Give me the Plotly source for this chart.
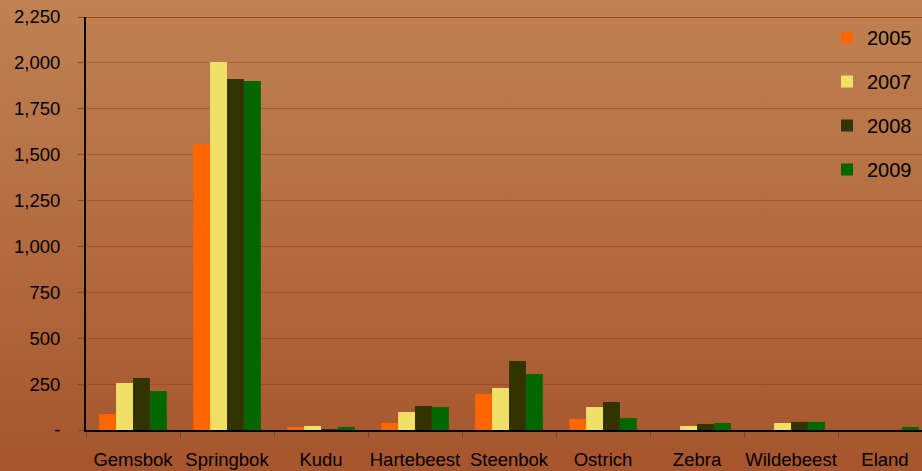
import base64
import plotly.graph_objects as go

categories = ["Gemsbok", "Springbok", "Kudu", "Hartebeest", "Steenbok",
              "Ostrich", "Zebra", "Wildebeest", "Eland"]
years = ["2005", "2007", "2008", "2009"]
v2005 = [87, 1558, 16, 38, 196, 60, 0, 0, 0]
v2007 = [256, 2005, 22, 98, 229, 125, 22, 38, 0]
v2008 = [283, 1912, 5, 131, 376, 153, 33, 44, 0]
v2009 = [212, 1901, 16, 125, 305, 65, 38, 44, 16]
series = [v2005, v2007, v2008, v2009]
colors = ["#ff6600", "#f0e068", "#333300", "#006600"]
ytickvals = [0, 250, 500, 750, 1000, 1250, 1500, 1750, 2000, 2250]
yticktext = ["-", "250", "500", "750", "1,000", "1,250", "1,500", "1,750", "2,000", "2,250"]

W, H = 922, 471
L, T, B = 86, 17, 41
PW, PH = W - L, H - T - B

svg = ('<svg xmlns="http://www.w3.org/2000/svg" width="100" height="100" preserveAspectRatio="none">'
       '<defs><linearGradient id="g" x1="0" y1="0" x2="0" y2="1">'
       '<stop offset="0" stop-color="#c08253"/><stop offset="1" stop-color="#a6552c"/>'
       '</linearGradient></defs><rect width="100" height="100" fill="url(#g)"/></svg>')
uri = "data:image/svg+xml;base64," + base64.b64encode(svg.encode()).decode()

fig = go.Figure()
for i, (name, vals) in enumerate(zip(years, series)):
    fig.add_trace(go.Bar(x=categories, y=vals, name=name, marker_color=colors[i],
                         marker_line_width=0, legendgroup=name))

fig.add_layout_image(dict(source=uri, xref="paper", yref="paper",
                          x=-L / PW, y=1 + T / PH, sizex=W / PW, sizey=H / PH,
                          sizing="stretch", layer="below", xanchor="left", yanchor="top"))

fig.add_shape(type="line", xref="paper", yref="y", x0=0, x1=1, y0=2250, y1=2250,
              line=dict(color="#a3470f", width=2))

font = "Liberation Sans, Arial, sans-serif"
fig.update_layout(
    width=W, height=H,
    margin=dict(l=L, r=0, t=T, b=B, pad=0, autoexpand=False),
    paper_bgcolor="#a6552c", plot_bgcolor="rgba(0,0,0,0)",
    barmode="group", bargap=0.28, bargroupgap=0,
    font=dict(family=font, color="#000000", size=18.5),
    showlegend=True,
    legend=dict(x=(827 - L) / PW, y=1 - (18 - T) / PH, xanchor="left", yanchor="top",
                bgcolor="rgba(0,0,0,0)", font=dict(size=20, family=font),
                tracegroupgap=15, traceorder="grouped"),
    xaxis=dict(range=[-0.5, 8.5 - 9 * (932 - 922) / 846], showgrid=False,
               showline=True, linecolor="#000000", linewidth=2,
               ticks="outside", tickson="boundaries", ticklen=6, tickcolor="#555555",
               ticklabelstandoff=12, tickfont=dict(size=18.5), tickangle=0,
               automargin=False),
    yaxis=dict(range=[0, 2250], tickvals=ytickvals, ticktext=yticktext,
               showgrid=True, gridcolor="rgba(140,55,15,0.38)", gridwidth=1,
               showline=True, linecolor="#000000", linewidth=2,
               ticks="outside", ticklen=6, tickcolor="#8a4520",
               ticklabelstandoff=14, tickfont=dict(size=18.5), zeroline=False,
               automargin=False),
)

fig.write_html("out.html", config={"displayModeBar": False},
               post_script="document.body.style.margin='0';document.body.style.overflow='hidden';")
